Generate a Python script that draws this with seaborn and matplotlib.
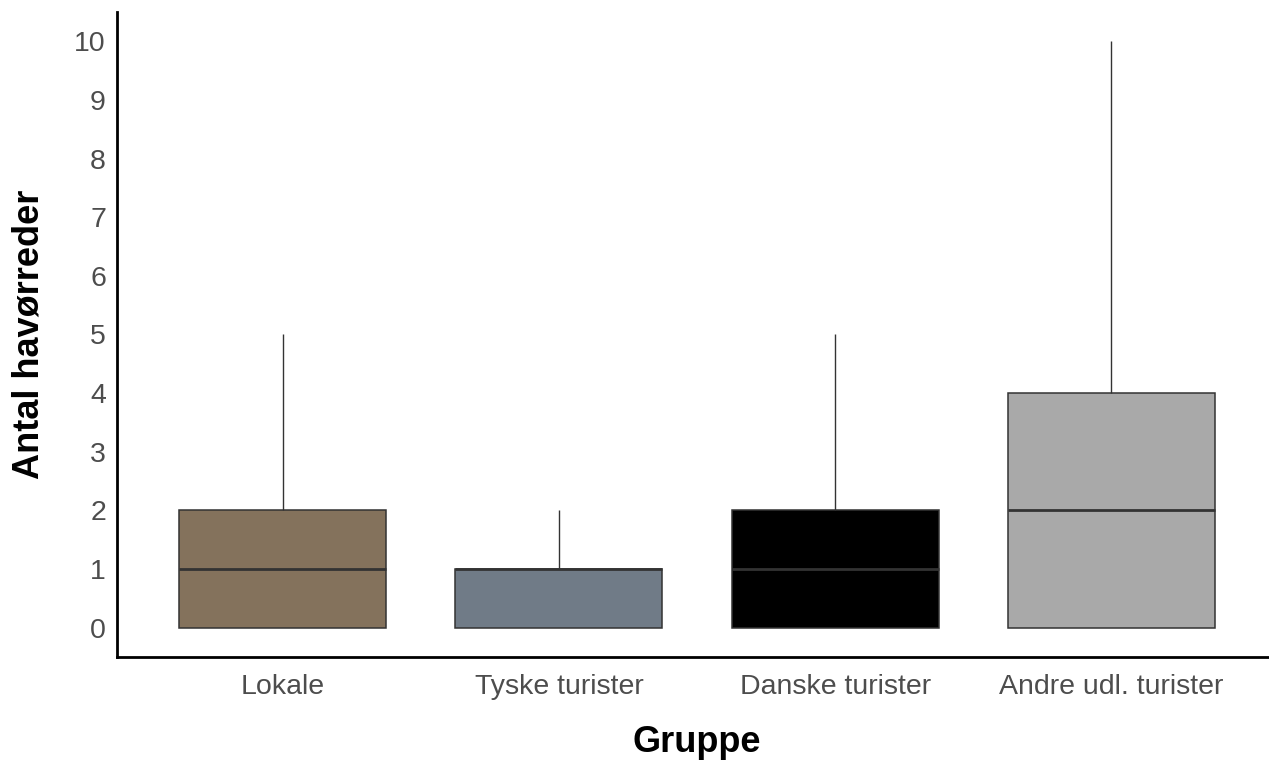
import numpy as np
import pandas as pd
import matplotlib
matplotlib.use("Agg")
import matplotlib.pyplot as plt
import seaborn as sns

# raw counts per group (chosen so the box stats match the figure)
groups = ["Lokale", "Tyske turister", "Danske turister", "Andre udl. turister"]
lokale = [0, 0, 0, 1, 1, 2, 2, 5]
tyske = [0, 0, 0, 1, 1, 1, 1, 2]
danske = [0, 0, 0, 1, 1, 2, 2, 5]
andre = [0, 0, 0, 2, 2, 4, 4, 10]
colors = ["#8B7355", "#6C7B8B", "#000000", "#A9A9A9"]

df = pd.concat([
    pd.DataFrame({"Gruppe": g, "Antal": v})
    for g, v in zip(groups, [lokale, tyske, danske, andre])
])

sns.set_theme(style="white")
plt.rcParams['font.family'] = ['Liberation Sans', 'DejaVu Sans']

fig = plt.figure(figsize=(12.69, 7.6), dpi=100)
ax = fig.add_axes([117 / 1269, 1 - 657 / 760, (1277 - 117) / 1269, (657 - 12) / 760])

sns.boxplot(data=df, x="Gruppe", y="Antal", hue="Gruppe", order=groups,
            palette=colors, width=0.75, whis=1.5, showcaps=False, fliersize=0,
            linecolor="#333333", linewidth=1.1,
            medianprops={"linewidth": 2, "color": "#333333"},
            whiskerprops={"linewidth": 1, "color": "#333333"},
            legend=False, ax=ax)

ax.set_ylim(-0.5, 10.5)
ax.set_xlim(-0.6, 3.6)
ax.set_yticks(range(0, 11))
ax.tick_params(axis="both", length=0, labelsize=20.5, labelcolor="#4D4D4D")
ax.tick_params(axis="x", pad=12)
ax.tick_params(axis="y", pad=8)
ax.set_xlabel("Gruppe", fontsize=26, fontweight="bold", labelpad=18, color="black")
ax.set_ylabel("Antal havørreder", fontsize=26, fontweight="bold", labelpad=20, color="black")

for s in ["top", "right"]:
    ax.spines[s].set_visible(False)
for s in ["left", "bottom"]:
    ax.spines[s].set_color("black")
    ax.spines[s].set_linewidth(2)

fig.savefig("out.png", dpi=100)
